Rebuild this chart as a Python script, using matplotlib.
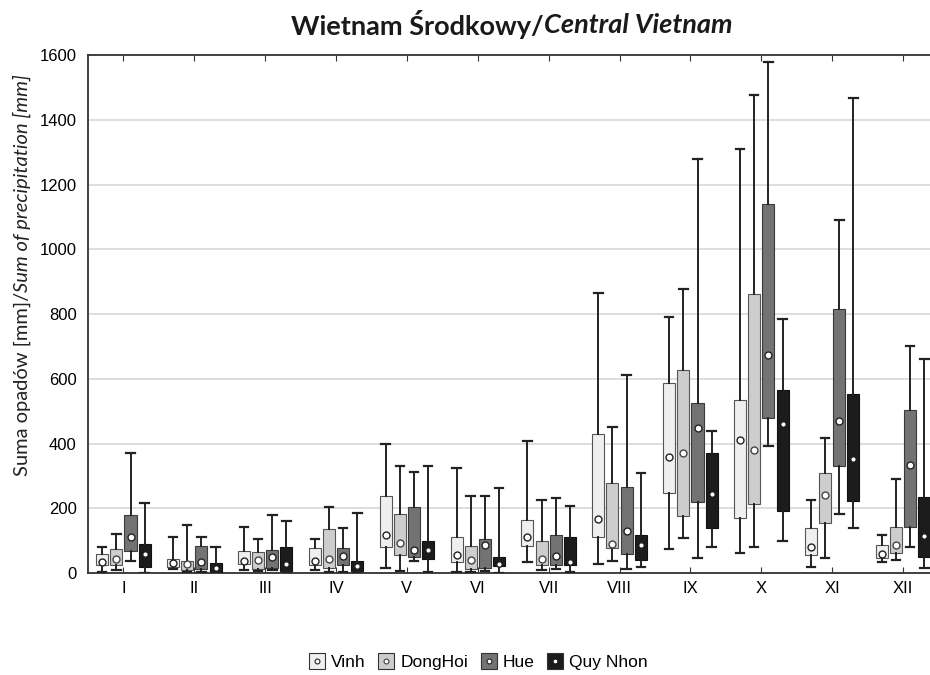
"""Central Vietnam monthly precipitation box plots."""

import matplotlib

matplotlib.use("Agg")
import matplotlib.pyplot as plt
from matplotlib.lines import Line2D

months = ["I", "II", "III", "IV", "V", "VI", "VII", "VIII", "IX", "X", "XI", "XII"]
stations = ["Vinh", "DongHoi", "Hue", "Quy Nhon"]

# per station, per month: min, q1, median, q3, max
vinh_min = [3, 13, 8, 8, 16, 2, 35, 29, 73, 63, 18, 34]
vinh_q1 = [24, 18, 27, 24, 81, 33, 83, 110, 247, 170, 57, 47]
vinh_med = [35, 31, 38, 38, 118, 56, 112, 168, 357, 412, 79, 58]
vinh_q3 = [60, 45, 68, 78, 238, 112, 165, 431, 588, 536, 139, 86]
vinh_max = [81, 112, 142, 104, 398, 325, 408, 866, 792, 1309, 227, 119]

donghoi_min = [8, 3, 5, 2, 7, 4, 11, 36, 108, 80, 48, 41]
donghoi_q1 = [24, 10, 13, 17, 56, 12, 26, 78, 177, 212, 154, 62]
donghoi_med = [42, 27, 40, 43, 92, 40, 44, 91, 370, 379, 240, 87]
donghoi_q3 = [74, 38, 66, 136, 181, 84, 100, 279, 628, 861, 309, 143]
donghoi_max = [122, 147, 105, 205, 331, 238, 226, 452, 877, 1475, 417, 289]

hue_min = [36, 2, 10, 2, 38, 6, 12, 12, 48, 393, 182, 79]
hue_q1 = [67, 13, 16, 26, 49, 16, 25, 60, 219, 479, 331, 141]
hue_med = [110, 34, 51, 53, 70, 87, 54, 130, 447, 672, 471, 335]
hue_q3 = [178, 85, 71, 77, 205, 105, 117, 266, 525, 1140, 815, 504]
hue_max = [370, 110, 179, 138, 313, 238, 233, 612, 1278, 1579, 1091, 700]

quynhon_min = [1, 0, 2, 2, 2, 1, 2, 19, 79, 99, 138, 15]
quynhon_q1 = [19, 1, 6, 6, 45, 21, 25, 41, 138, 193, 223, 51]
quynhon_med = [60, 16, 27, 21, 70, 27, 35, 86, 245, 459, 352, 116]
quynhon_q3 = [91, 32, 81, 37, 99, 50, 111, 119, 370, 564, 552, 235]
quynhon_max = [215, 80, 161, 184, 330, 263, 207, 310, 439, 785, 1468, 661]

station_data = [
    (vinh_min, vinh_q1, vinh_med, vinh_q3, vinh_max),
    (donghoi_min, donghoi_q1, donghoi_med, donghoi_q3, donghoi_max),
    (hue_min, hue_q1, hue_med, hue_q3, hue_max),
    (quynhon_min, quynhon_q1, quynhon_med, quynhon_q3, quynhon_max),
]

box_colors = ["#efefef", "#cdcdcd", "#737373", "#1c1c1c"]
edge_colors = ["#555555", "#555555", "#3a3a3a", "#111111"]
median_edges = ["#222222", "#444444", "#222222", "#1c1c1c"]
median_sizes = [5, 5, 5, 4]
offsets = [-0.3, -0.1, 0.1, 0.3]
box_width = 0.17

plt.rcParams["font.family"] = ["Liberation Sans", "DejaVu Sans"]
calibri_like = ["Lato", "DejaVu Sans"]

fig = plt.figure(figsize=(9.3, 6.75), dpi=100)
ax = fig.add_axes([0.0946, 0.151, 0.9054, 0.7675])

positions_base = list(range(1, len(months) + 1))
for s, (mins, q1s, meds, q3s, maxs) in enumerate(station_data):
    stats = []
    for i in range(len(months)):
        stats.append({
            "whislo": mins[i], "q1": q1s[i], "med": meds[i],
            "q3": q3s[i], "whishi": maxs[i], "fliers": [],
        })
    pos = [p + offsets[s] for p in positions_base]
    ax.bxp(
        stats, positions=pos, widths=box_width, patch_artist=True,
        showfliers=False, zorder=3,
        boxprops=dict(facecolor=box_colors[s], edgecolor=edge_colors[s], linewidth=0.8),
        whiskerprops=dict(color="#222222", linewidth=1.4),
        capprops=dict(color="#222222", linewidth=1.6),
        medianprops=dict(linewidth=0),
        capwidths=0.12,
    )
    ax.plot(pos, meds, linestyle="none", marker="o", markersize=median_sizes[s],
            markerfacecolor="white", markeredgecolor=median_edges[s],
            markeredgewidth=1.0, zorder=4)

ax.set_xlim(0.5, 12.38)
ax.set_ylim(0, 1600)
ax.set_yticks(range(0, 1601, 200))
ax.set_xticks(positions_base)
ax.set_xticklabels(months)
ax.tick_params(axis="x", direction="in", top=True, length=4, labelsize=12, pad=6, color="#333333")
ax.tick_params(axis="y", length=0, labelsize=12, pad=8)
ax.grid(axis="y", color="#d4d4d4", linewidth=1.1, zorder=0)
ax.set_axisbelow(True)
for side in ["left", "bottom", "top"]:
    ax.spines[side].set_color("#333333")
    ax.spines[side].set_linewidth(1.3)
ax.spines["right"].set_visible(False)

# title in two styles
fig.text(0.585, 0.963, "Wietnam Środkowy/", ha="right", va="center",
         fontsize=19.5, fontweight="bold", family=calibri_like, color="#1a1a1a")
fig.text(0.585, 0.963, "Central Vietnam", ha="left", va="center",
         fontsize=19.5, fontweight="bold", fontstyle="italic", family=calibri_like,
         color="#1a1a1a")

# y label in two styles
fig.text(0.024, 1 - 292 / 675, "Suma opadów [mm]/", rotation=90, rotation_mode="anchor",
         ha="right", va="center", fontsize=14.5, family=calibri_like, color="#222222")
fig.text(0.024, 1 - 292 / 675, "Sum of precipitation [mm]", rotation=90, rotation_mode="anchor",
         ha="left", va="center", fontsize=14.5, fontstyle="italic", family=calibri_like,
         color="#222222")

handles = []
for s in range(len(stations)):
    sq = Line2D([], [], linestyle="none", marker="s", markersize=11.5,
                markerfacecolor=box_colors[s], markeredgecolor="#333333", markeredgewidth=0.8)
    dot = Line2D([], [], linestyle="none", marker="o", markersize=3.5,
                 markerfacecolor="white", markeredgecolor=median_edges[s], markeredgewidth=0.8)
    handles.append((sq, dot))
fig.legend(handles, stations, loc="center", bbox_to_anchor=(0.514, 0.018), ncol=4,
           frameon=False, fontsize=12.5, handlelength=1.0, handletextpad=0.3,
           columnspacing=0.7)

fig.savefig("out.png", dpi=100)
